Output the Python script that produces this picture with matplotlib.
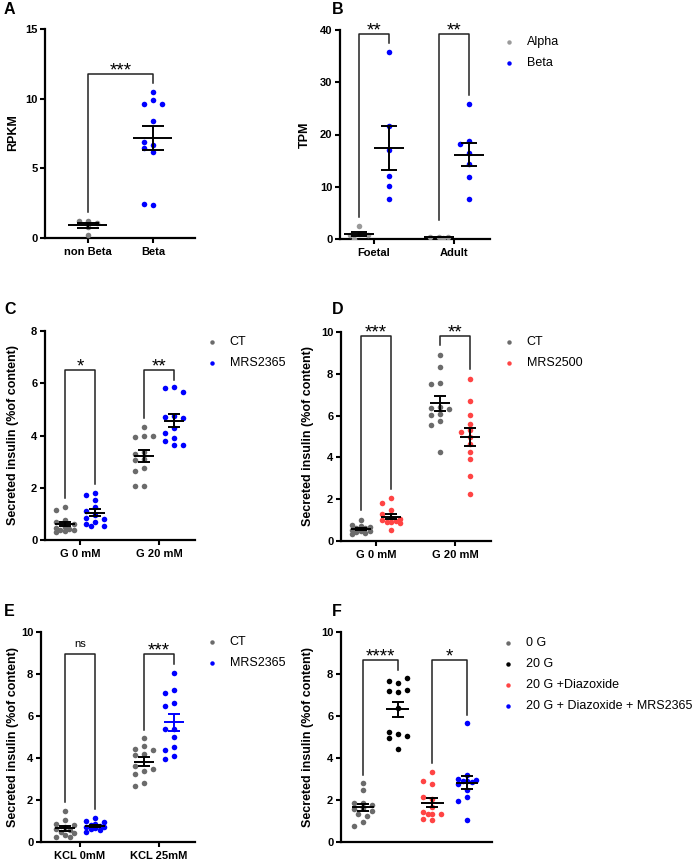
import matplotlib
matplotlib.use("Agg")

import matplotlib.pyplot as plt
import numpy as np

plt.rcParams['font.family'] = ['Liberation Sans', 'DejaVu Sans']

GRAY = "#6b6b6b"
LGRAY = "#9a9a9a"
BLUE = "#0000ff"
RED = "#ff4444"
BLACK = "#000000"

# ---- data ----
# A
a_groups = ["non Beta", "Beta"]
a_nonbeta = [1.25, 1.2, 1.1, 0.8, 0.25]
a_beta = [10.45, 9.9, 9.65, 9.65, 8.4, 6.65, 6.9, 6.2, 6.45, 2.4, 2.45]

# B
b_groups = ["Foetal", "Adult"]
b_alpha_foetal = [2.5, 0.9, 0.75, 0.7, 0.05]
b_beta_foetal = [35.7, 21.7, 17.1, 12.1, 10.1, 7.7]
b_alpha_adult = [0.4, 0.3, 0.35, 0.25]
b_beta_adult = [25.8, 18.7, 18.2, 16.4, 14.4, 11.9, 7.6]

# C
c_groups = ["G 0 mM", "G 20 mM"]
c_ct_g0 = [1.27, 1.15, 0.78, 0.7, 0.6, 0.5, 0.45, 0.42, 0.4, 0.38, 0.35, 0.3]
c_mrs_g0 = [1.8, 1.72, 1.55, 1.28, 1.1, 0.95, 0.85, 0.8, 0.7, 0.62, 0.55, 0.55]
c_ct_g20 = [4.33, 3.97, 3.95, 3.99, 3.35, 3.3, 3.1, 3.05, 2.75, 2.65, 2.08, 2.05]
c_mrs_g20 = [5.85, 5.8, 5.68, 4.75, 4.7, 4.68, 4.3, 4.1, 3.9, 3.8, 3.65, 3.62]

# D
d_groups = ["G 0 mM", "G 20 mM"]
d_ct_g0 = [1.0, 0.75, 0.7, 0.65, 0.62, 0.6, 0.55, 0.5, 0.48, 0.45, 0.4, 0.35]
d_mrs_g0 = [2.07, 1.82, 1.47, 1.28, 1.1, 1.05, 1.0, 0.95, 0.92, 0.9, 0.85, 0.52]
d_ct_g20 = [8.92, 8.33, 7.58, 7.5, 6.4, 6.35, 6.3, 6.1, 6.05, 5.75, 5.55, 4.25]
d_mrs_g20 = [7.77, 6.7, 6.03, 5.61, 5.33, 5.22, 4.98, 4.63, 4.26, 3.94, 3.09, 2.26]

# E
e_groups = ["KCL 0mM", "KCL 25mM"]
e_ct_k0 = [1.46, 1.03, 0.85, 0.8, 0.7, 0.62, 0.55, 0.5, 0.42, 0.35, 0.25, 0.22]
e_mrs_k0 = [1.15, 0.98, 0.95, 0.85, 0.8, 0.78, 0.72, 0.7, 0.65, 0.6, 0.55, 0.48]
e_ct_k25 = [4.94, 4.55, 4.45, 4.4, 4.2, 4.15, 3.4, 3.6, 3.5, 3.22, 2.82, 2.68]
e_mrs_k25 = [8.07, 7.25, 7.09, 6.61, 6.48, 5.4, 5.4, 5.02, 4.54, 4.4, 4.09, 3.95]

# F
f_labels = ["0 G", "20 G", "20 G +Diazoxide", "20 G + Diazoxide + MRS2365"]
f_0g = [2.8, 2.48, 1.88, 1.85, 1.75, 1.6, 1.55, 1.5, 1.35, 1.25, 0.95, 0.78]
f_20g = [7.56, 7.66, 7.8, 7.13, 7.17, 7.23, 6.4, 5.13, 5.25, 5.04, 4.97, 4.41]
f_diaz = [3.34, 2.76, 2.9, 2.07, 2.12, 1.67, 1.43, 1.35, 1.35, 1.35, 1.03, 1.08]
f_diaz_mrs = [5.65, 3.18, 3.0, 2.95, 2.9, 2.9, 2.85, 2.75, 2.5, 2.15, 1.94, 1.03]

W, H = 694, 861
fig = plt.figure(figsize=(W / 100, H / 100), dpi=100)


def box(left, top, right, bottom):
    return [left / W, 1 - bottom / H, (right - left) / W, (bottom - top) / H]


def style(ax, ylim, yticks, xlim, xticks=None, xlabels=None):
    ax.set_xlim(*xlim)
    ax.set_ylim(*ylim)
    ax.set_yticks(yticks)
    for s in ["top", "right"]:
        ax.spines[s].set_visible(False)
    for s in ["left", "bottom"]:
        ax.spines[s].set_linewidth(1.6)
    ax.tick_params(width=1.5, length=3.5, labelsize=8, pad=2)
    if xticks is None:
        ax.set_xticks([])
    else:
        ax.set_xticks(xticks)
        ax.set_xticklabels(xlabels)
        ax.tick_params(axis="x", pad=3)
    for t in ax.get_xticklabels() + ax.get_yticklabels():
        t.set_fontweight("bold")


def swarm(ax, x0, vals, step=4.5, d=5.5):
    # graphpad-ish scatter: dots pushed sideways onto a few slots, overlap when crowded
    pts = ax.transData.transform([(x0, v) for v in vals])
    slots = [0, -2, 2, -1, 1]
    placed = []
    for px, py in pts:
        best, best_gap = None, -1
        for k in slots:
            cx = px + k * step
            gap = min([np.hypot(cx - qx, py - qy) for qx, qy in placed] + [99])
            if gap >= d:
                best = cx
                break
            if gap > best_gap:
                best, best_gap = cx, gap
        placed.append((best, py))
    inv = ax.transData.inverted()
    return [inv.transform(p)[0] for p in placed]


def dots(ax, x0, vals, color, mw, cw, bar="black", label=None):
    xs = swarm(ax, x0, vals)
    ax.scatter(xs, vals, s=16, color=color, linewidths=0, zorder=3, label=label)
    m = np.mean(vals)
    se = np.std(vals, ddof=1) / np.sqrt(len(vals))
    kw = dict(color=bar, lw=1.4, zorder=4, solid_capstyle="butt")
    ax.plot([x0 - mw, x0 + mw], [m, m], **kw)
    ax.plot([x0, x0], [m - se, m + se], **kw)
    ax.plot([x0 - cw, x0 + cw], [m + se, m + se], **kw)
    ax.plot([x0 - cw, x0 + cw], [m - se, m - se], **kw)


def bracket(ax, x1, x2, top, y1, y2, txt):
    ax.plot([x1, x1, x2, x2], [y1, top, top, y2], color="#222222", lw=1.1,
            clip_on=False, zorder=2)
    if txt == "ns":
        ax.annotate(txt, xy=((x1 + x2) / 2, top), xytext=(0, 5),
                    textcoords="offset points", ha="center", va="baseline",
                    fontsize=8, annotation_clip=False)
    else:
        ax.annotate(txt, xy=((x1 + x2) / 2, top), xytext=(0, -1),
                    textcoords="offset points", ha="center", va="baseline",
                    fontsize=13.5, annotation_clip=False)


def legend(ax, x, y):
    ax.legend(loc="upper left", bbox_to_anchor=(x / W, 1 - y / H),
              bbox_transform=fig.transFigure, frameon=False, fontsize=9,
              handlelength=1.0, handletextpad=0.9, borderpad=0, borderaxespad=0,
              labelspacing=0.72, markerscale=0.8)


def ylab(x, y, txt):
    fig.text(x / W, 1 - y / H, txt, rotation=90, ha="center", va="center",
             fontsize=9, fontweight="bold")


def letter(x, y, txt):
    fig.text(x / W, 1 - y / H, txt, ha="left", va="center", fontsize=11.5,
             fontweight="bold")


off = 0.19

# ---- A ----
ax = fig.add_axes(box(45, 29, 195, 238))
style(ax, (0, 15), [0, 5, 10, 15], (-0.66, 1.646), [0, 1], a_groups)
dots(ax, 0, a_nonbeta, "#7f7f7f", 0.3, 0.17)
dots(ax, 1, a_beta, BLUE, 0.3, 0.17)
bracket(ax, 0, 1, 11.8, 1.9, 11.1, "***")
ylab(13, 133, "RPKM")
letter(4, 10, "A")

# ---- B ----
ax = fig.add_axes(box(340, 30, 490, 239))
style(ax, (0, 40), [0, 10, 20, 30, 40], (-0.425, 1.45), [0, 1], b_groups)
dots(ax, -off, b_alpha_foetal, LGRAY, 0.19, 0.1, label="Alpha")
dots(ax, off, b_beta_foetal, BLUE, 0.19, 0.1, label="Beta")
dots(ax, 1 - off, b_alpha_adult, LGRAY, 0.19, 0.1)
dots(ax, 1 + off, b_beta_adult, BLUE, 0.19, 0.1)
bracket(ax, -off, off, 39.2, 4.3, 37.5, "**")
bracket(ax, 1 - off, 1 + off, 39.2, 3.7, 27.5, "**")
legend(ax, 503, 36)
ylab(305, 135, "TPM")
letter(332, 10, "B")

# ---- C ----
ax = fig.add_axes(box(45, 331, 195, 540))
style(ax, (0, 8), [0, 2, 4, 6, 8], (-0.443, 1.456), [0, 1], c_groups)
dots(ax, -off, c_ct_g0, GRAY, 0.13, 0.08, label="CT")
dots(ax, off, c_mrs_g0, BLUE, 0.13, 0.08, label="MRS2365")
dots(ax, 1 - off, c_ct_g20, GRAY, 0.13, 0.08)
dots(ax, 1 + off, c_mrs_g20, BLUE, 0.13, 0.08)
bracket(ax, -off, off, 6.52, 1.59, 2.13, "*")
bracket(ax, 1 - off, 1 + off, 6.52, 4.68, 6.14, "**")
legend(ax, 206, 336)
ylab(13, 435, "Secreted insulin (%of content)")
letter(4, 310, "C")

# ---- D ----
ax = fig.add_axes(box(341, 332, 491, 541))
style(ax, (0, 10), [0, 2, 4, 6, 8, 10], (-0.443, 1.456), [0, 1], d_groups)
dots(ax, -off, d_ct_g0, GRAY, 0.13, 0.08, label="CT")
dots(ax, off, d_mrs_g0, RED, 0.13, 0.08, label="MRS2500")
dots(ax, 1 - off, d_ct_g20, GRAY, 0.13, 0.08)
dots(ax, 1 + off, d_mrs_g20, RED, 0.13, 0.08)
bracket(ax, -off, off, 9.79, 1.47, 2.5, "***")
bracket(ax, 1 - off, 1 + off, 9.79, 9.36, 8.21, "**")
legend(ax, 503, 336)
ylab(308, 436, "Secreted insulin (%of content)")
letter(332, 310, "D")

# ---- E ----
ax = fig.add_axes(box(41, 632, 195, 842))
style(ax, (0, 10), [0, 2, 4, 6, 8, 10], (-0.494, 1.456), [0, 1], e_groups)
dots(ax, -off, e_ct_k0, GRAY, 0.13, 0.08, label="CT")
dots(ax, off, e_mrs_k0, BLUE, 0.13, 0.08, label="MRS2365")
dots(ax, 1 - off, e_ct_k25, GRAY, 0.13, 0.08)
dots(ax, 1 + off, e_mrs_k25, BLUE, 0.13, 0.08, bar=BLUE)
bracket(ax, -off, off, 8.96, 1.91, 1.59, "ns")
bracket(ax, 1 - off, 1 + off, 8.96, 5.33, 8.47, "***")
legend(ax, 206, 636)
ylab(13, 737, "Secreted insulin (%of content)")
letter(4, 611, "E")

# ---- F ----
ax = fig.add_axes(box(341, 632, 492, 842))
style(ax, (0, 10), [0, 2, 4, 6, 8, 10], (-0.634, 3.72))
f_colors = [GRAY, BLACK, RED, BLUE]
for i, (vals, c, lab) in enumerate(zip([f_0g, f_20g, f_diaz, f_diaz_mrs], f_colors, f_labels)):
    dots(ax, i, vals, c, 0.33, 0.17, label=lab)
bracket(ax, 0, 1, 8.68, 3.18, 8.2, "****")
bracket(ax, 2, 3, 8.68, 3.77, 6.05, "*")
legend(ax, 502, 637)
ylab(308, 737, "Secreted insulin (%of content)")
letter(332, 611, "F")

fig.savefig("out.png", dpi=100)
plt.close(fig)
